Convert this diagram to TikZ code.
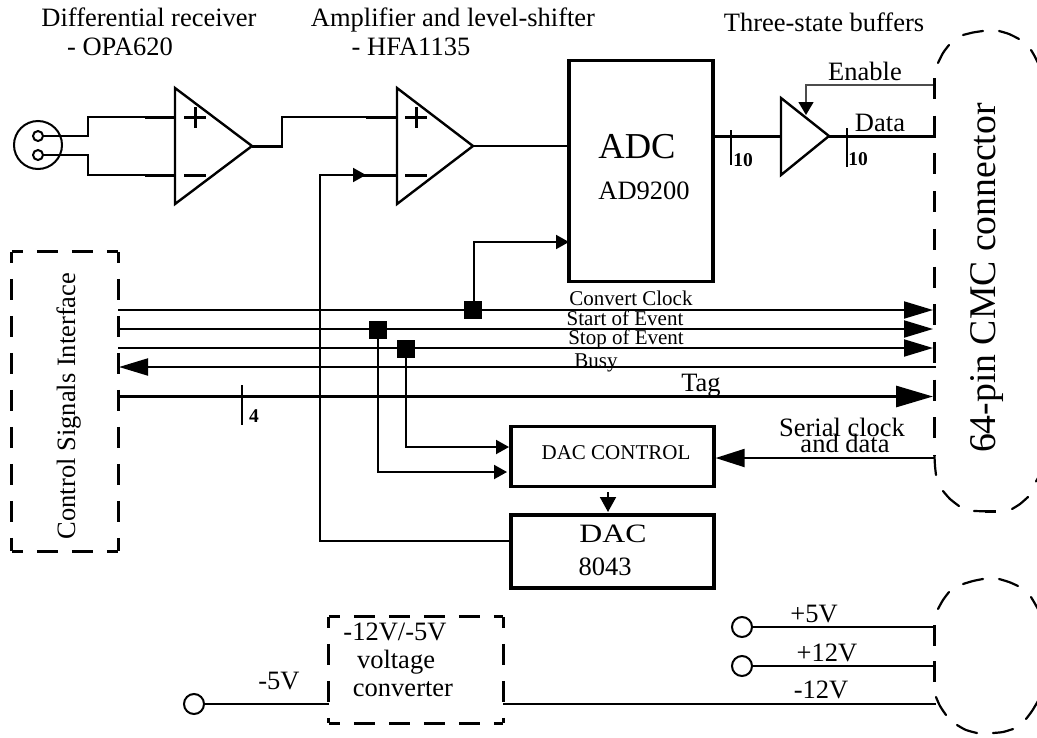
\documentclass[tikz,border=0pt]{standalone}
\usepackage{fontspec}
\setmainfont{Liberation Serif}
\usetikzlibrary{arrows.meta}
\newcommand{\fs}[1]{\fontsize{#1}{#1}\selectfont}
\tikzset{
  wire/.style={line width=2pt},
  bus/.style={line width=3pt},
  box/.style={draw,line width=3.2pt,rectangle,inner sep=0pt},
  hollow/.style={draw=none,rectangle,inner sep=0pt},
  amp/.style={draw,line width=2.4pt,line join=miter},
  txt/.style={anchor=base,inner sep=0pt,font=\fs{26.5}},
  stxt/.style={anchor=base,inner sep=0pt,font=\fs{21}},
  btxt/.style={anchor=base,inner sep=0pt,font=\fs{19.5}\bfseries},
  vdash/.style={line width=3pt,dash pattern=on 21pt off 16pt,dash phase=10pt},
  hdash/.style={line width=3pt,dash pattern=on 21pt off 14pt,dash phase=10pt},
  arcdash/.style={line width=2.2pt,line cap=round},
  tick/.style={line width=1.7pt},
  pin/.style={draw,circle,line width=2pt,inner sep=0pt,minimum size=20pt},
  sq/.style={fill=black,rectangle,inner sep=0pt,minimum size=18pt},
  bigtip/.style={-{Triangle[length=29pt,width=17pt]}},
  hugetip/.style={-{Triangle[length=37pt,width=21pt]}},
  midtip/.style={-{Triangle[length=13pt,width=14pt]}},
}
\begin{document}
\begin{tikzpicture}[x=1pt,y=-1pt]
\useasboundingbox (0,0) rectangle (1037,737);
\clip (0,0) rectangle (1037,737);

% --- input connector
\node[pin,line width=2pt,minimum size=48pt] (xlr) at (38,145) {};
\node[pin,minimum size=10pt] (pa) at (38,136) {};
\node[pin,minimum size=10pt] (pb) at (38,155) {};

% --- amplifiers
\coordinate (a1t) at (175,88); \coordinate (a1b) at (175,204); \coordinate (a1o) at (252,146);
\coordinate (a1p) at (175,117); \coordinate (a1m) at (175,175);
\draw[amp] (a1t) -- (a1o) -- (a1b) -- cycle;
\draw[bus] (184,117) -- (206,117) (195,107) -- (195,128) (184,175) -- (206,175);
\coordinate (a2t) at (397,88); \coordinate (a2b) at (397,204); \coordinate (a2o) at (473,146);
\coordinate (a2p) at (397,117); \coordinate (a2m) at (397,175);
\draw[amp] (a2t) -- (a2o) -- (a2b) -- cycle;
\draw[bus] (405,117) -- (427,117) (416,107) -- (416,128) (405,175) -- (427,175);

\draw[wire] (pa.east) -- (88,136) -- (88,117) -- (a1p);
\draw[wire] (pb.east) -- (88,155) -- (88,175) -- (a1m);
\draw[bus] (145,117) -- (a1p) (145,175) -- (a1m);
\draw[bus] (a1o) -- (283,146);
\draw[wire] (282,146) -- (282,117) -- (a2p);
\draw[bus] (366,117) -- (a2p);

% --- blocks
\node[box,minimum width=144pt,minimum height=221pt] (adc) at (641,171) {};
\node[box,minimum width=203pt,minimum height=60pt] (dacc) at (612.5,456.5) {};
\node[box,minimum width=203pt,minimum height=73pt] (dac) at (612.5,551.5) {};
\node[hollow,minimum width=106pt,minimum height=299pt] (csi) at (65,401.5) {};
\node[hollow,minimum width=174pt,minimum height=106pt] (conv) at (416,670) {};

\draw[wire] (a2o) -- (adc.west |- a2o);

% --- buffer
\coordinate (bt) at (781,98); \coordinate (bb) at (781,175); \coordinate (bo) at (829,136); \coordinate (bi) at (781,136);
\draw[amp] (bt) -- (bo) -- (bb) -- cycle;
\coordinate (data) at (936,136);
\draw[bus] (adc.east |- bi) -- (bi);
\draw[bus] (bo) -- (data);
\coordinate (en) at (933,85); \coordinate (enc) at (806,85); \coordinate (ent) at (806,115);
\draw[line width=1.4pt,draw=black!70,-{Triangle[length=13pt,width=15pt,color=black,fill=black]}] (en) -- (enc) -- (ent);
\draw[tick] (731,130) -- (731,165) (847,128) -- (847,167);

% --- signal lines
\coordinate (c1l) at (118,310); \coordinate (c1r) at (933,310);
\coordinate (c2l) at (118,329); \coordinate (c2r) at (933,329);
\coordinate (c3l) at (118,348); \coordinate (c3r) at (933,348);
\coordinate (c4l) at (119,367); \coordinate (c4r) at (936,367);
\coordinate (c5l) at (118,396.5); \coordinate (c5r) at (933,396.5);
\draw[wire,bigtip] (c1l) -- (c1r);
\draw[wire,bigtip] (c2l) -- (c2r);
\draw[wire,bigtip] (c3l) -- (c3r);
\draw[wire,bigtip] (c4r) -- (c4l);
\draw[bus,hugetip] (c5l) -- (c5r);
\draw[tick] (242,385) -- (242,425);

\node[sq] (s1) at (473,310) {};
\node[sq] (s2) at (378,330) {};
\node[sq] (s3) at (406,349) {};
\coordinate (adcin) at (569,242);
\draw[wire,midtip] (473.5,310) -- (473.5,242) -- (adcin);
\draw[wire,midtip] (378,330) -- (378,472) -- (507,472);
\draw[wire,midtip] (406,349) -- (406,447) -- (509,447);

% --- DAC feedback
\draw[wire,midtip] (dac.west |- 0,541) -- (320,541) -- (320,175) -- (366,175);
\draw[bus] (354,175) -- (a2m);
\draw[wire,-{Triangle[length=15pt,width=16pt]}] (608,492) -- (608,512);
\draw[wire,{Triangle[length=29pt,width=18pt]}-] (dacc.east |- 0,458) -- (935,458);

% --- dashed interface box
\draw[hdash] (csi.north west) -- (csi.north east);
\draw[hdash] (csi.south west) -- (csi.south east);
\draw[vdash] (csi.north west) -- (csi.south west);
\draw[vdash] (csi.north east) -- (csi.south east);

% --- converter dashed box
\draw[hdash] (conv.north west) -- (conv.north east);
\draw[hdash] (conv.south west) -- (conv.south east);
\draw[vdash] (conv.north west) -- (conv.south west);
\draw[vdash] (conv.north east) -- (conv.south east);

% --- CMC connector
\draw[line width=3pt,dash pattern=on 21pt off 16.7pt] (934.5,78) -- (934.5,456);
\draw[arcdash] plot[smooth] coordinates {(938,63) (943,53) (949,45)};
\draw[arcdash] plot[smooth] coordinates {(963,35) (973,32.5) (983,31)};
\draw[arcdash] plot[smooth] coordinates {(999,31) (1009,34) (1019,39)};
\draw[arcdash] plot[smooth] coordinates {(1031,50) (1034,55) (1038,63)};
\draw[arcdash] plot[smooth] coordinates {(934.5,456) (935,466) (936,475)};
\draw[arcdash] plot[smooth] coordinates {(943,491) (950,499) (959,506)};
\draw[arcdash] (974,511) -- (985,511.3);
\draw[line width=3pt] (985,511.3) -- (996,511.3);
\draw[arcdash] plot[smooth] coordinates {(1012,509) (1020,504) (1028,497)};
\draw[arcdash] (1036,481.5) -- (1038,478);

% --- power connector
\draw[line width=3pt] (934.5,625) -- (934.5,646) (934.5,661) -- (934.5,682);
\draw[arcdash] plot[smooth] coordinates {(938,609) (943,600) (949,592)};
\draw[arcdash] plot[smooth] coordinates {(963,584) (973,581) (983,579)};
\draw[arcdash] plot[smooth] coordinates {(999,579) (1009,582) (1018,586)};
\draw[arcdash] plot[smooth] coordinates {(1031,597) (1034,602) (1038,609)};
\draw[arcdash] plot[smooth] coordinates {(936,697) (940,706) (946,715)};
\draw[arcdash] plot[smooth] coordinates {(957,725) (966,730) (977,733)};
\draw[arcdash] plot[smooth] coordinates {(993,733) (1003,732) (1013,729)};
\draw[arcdash] plot[smooth] coordinates {(1026,719) (1032,711) (1038,701)};

% --- power lines
\node[pin] (p5) at (742,627) {};
\node[pin] (p12) at (742,666) {};
\node[pin] (m5) at (194,704) {};
\coordinate (r5) at (934,627); \coordinate (r12) at (934,666); \coordinate (rm12) at (936,704);
\draw[wire] (p5) -- (r5);
\draw[wire] (p12) -- (r12);
\draw[wire] (m5) -- (conv.west |- m5);
\draw[wire] (conv.east |- rm12) -- (rm12);

% --- texts
\node[txt] (t1) at (149,26) {Differential receiver};
\node[txt] (t2) at (120,55) {- OPA620};
\node[txt] (t3) at (453,26) {Amplifier and level-shifter};
\node[txt] (t4) at (411,55) {- HFA1135};
\node[txt] (t5) at (824,31) {Three-state buffers};
\node[txt] (t6) at (865,80) {Enable};
\node[txt] (t7) at (880,131) {Data};
\node[txt,font=\fs{36.5}] (t8) at (637,158) {ADC};
\node[txt] (t9) at (644,199) {AD9200};
\node[btxt] (t10) at (743,166) {10};
\node[btxt] (t11) at (858,165) {10};
\node[btxt] (t12) at (254,422) {4};
\node[stxt] (t13) at (631,305) {Convert Clock};
\node[stxt] (t14) at (625,325) {Start of Event};
\node[stxt] (t15) at (626,344) {Stop of Event};
\node[stxt] (t16) at (596,367) {Busy};
\node[txt] (t17) at (701,391) {Tag};
\node[txt] (t18) at (842,436) {Serial clock};
\node[txt] (t19) at (845,452) {and data};
\node[stxt] (t20) at (616,459) {DAC CONTROL};
\node[txt] (t21) at (613,542) {\addfontfeatures{FakeStretch=1.2}DAC};
\node[txt] (t22) at (605,575) {8043};
\node[txt] (t23) at (395,640) {-12V/-5V};
\node[txt] (t24) at (396,668) {voltage};
\node[txt] (t25) at (403,696) {converter};
\node[txt] (t26) at (279,689) {-5V};
\node[txt] (t27) at (814,622) {+5V};
\node[txt] (t28) at (827,661) {+12V};
\node[txt] (t29) at (821,698) {-12V};
\node[txt,rotate=90] (t30) at (75,406) {Control Signals Interface};
\node[txt,rotate=90,font=\fs{37.7}] (t31) at (995.5,278) {64-pin CMC connector};
\end{tikzpicture}
\end{document}
